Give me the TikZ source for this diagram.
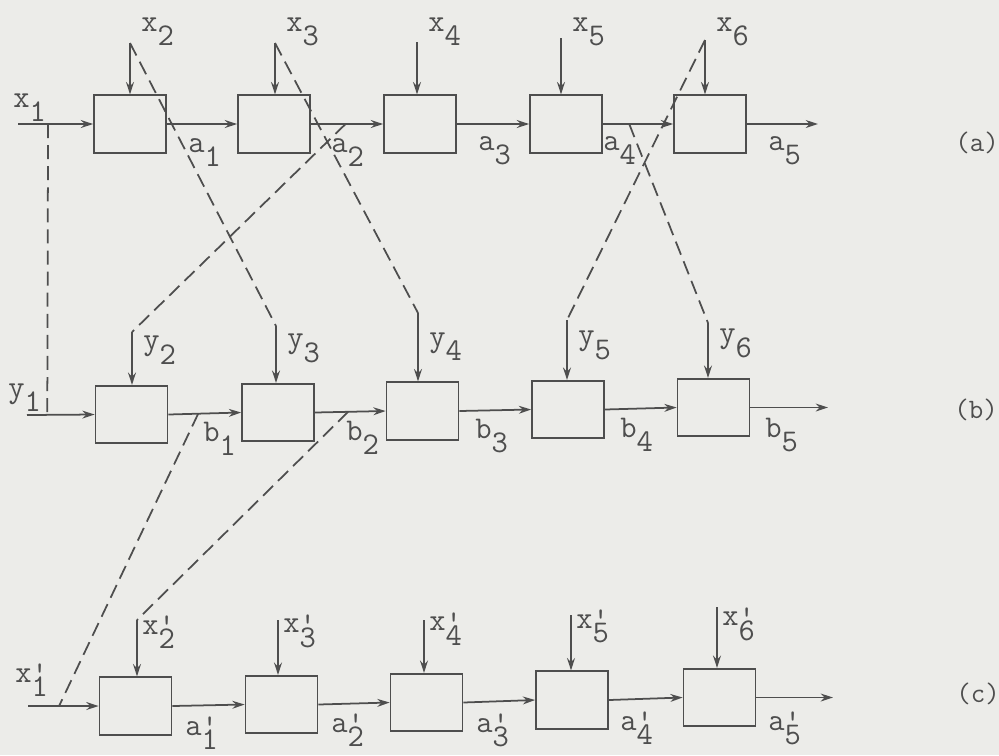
\documentclass[tikz,border=0pt]{standalone}
\usepackage{tikz}
\usetikzlibrary{arrows.meta,positioning,calc}
\usepackage{xcolor}
\definecolor{paper}{RGB}{236,236,233}
\definecolor{ink}{RGB}{78,78,78}

%% typewriter signal names: lowered index, optional prime over it
\newcommand{\sig}[2]{#1\raisebox{-0.45em}{#2}}
\newcommand{\sigp}[2]{#1\raisebox{-0.45em}{\rlap{\raisebox{0.4em}{'}}#2}}

\begin{document}
\begin{tikzpicture}[x=0.02cm, y=-0.02cm,
    blk/.style={rectangle, draw=ink, line width=1pt, minimum width=1.44cm, minimum height=1.15cm, inner sep=0pt},
    flow/.style={draw=ink, line width=1pt, -{Stealth[length=7pt,width=4.5pt]}},
    link/.style={draw=ink, line width=1pt, dash pattern=on 8pt off 4pt},
    sigl/.style={text=ink, font=\ttfamily\fontsize{18}{20}\selectfont, inner sep=0pt, anchor=base west},
    tag/.style={text=ink, font=\ttfamily\fontsize{16}{18}\selectfont, inner sep=0pt}
  ]

  %% paper
  \fill[paper] (0,0) rectangle (999,755);
  \useasboundingbox (0,0) rectangle (999,755);

  %% Row (a): boxes and inputs x_2..x_6 from above
  \foreach \i/\x/\u/\t in {1/130/130/43, 2/274/275/43, 3/420/417/42, 4/566/561/38, 5/710/705/40}{
    \pgfmathtruncatemacro{\n}{\i+1}
    \node[blk] (a\i) at (\x,124) {};
    \coordinate (ta\i) at (\u,\t);
    \draw[flow] (ta\i) -- (ta\i |- a\i.north);
    \node[sigl] at ($(ta\i |- a\i.north)+(11,-63)$) {\sig{x}{\n}};
  }
  \coordinate (ina) at (18,124);
  \coordinate (outa) at (818,124);
  \draw[flow] (ina) -- (a1.west);
  \foreach \i [evaluate=\i as \j using int(\i+1)] in {1,...,4}{
    \draw[flow] (a\i.east) -- (a\j.west);
  }
  \draw[flow] (a5.east) -- (outa);
  \node[sigl] (lx1) at (13,107) {\sig{x}{1}};
  \foreach \i/\x/\yb in {1/188/152, 2/331/152, 3/478/150, 4/603/150, 5/768/150}{
    \node[sigl] at (\x,\yb) {\sig{a}{\i}};
  }
  \node[tag] (rowa) at (977,143) {(a)};

  %% Row (b): boxes and inputs y_2..y_6
  \foreach \i/\x/\y/\u/\t in {1/131.5/414.5/132/332, 2/278/412.5/276/326, 3/422.5/411/418/313, 4/568/409.5/567/320, 5/713.5/407.5/708/323}{
    \pgfmathtruncatemacro{\n}{\i+1}
    \node[blk] (b\i) at (\x,\y) {};
    \coordinate (tb\i) at (\u,\t);
    \draw[flow] (tb\i) -- (tb\i |- b\i.north);
    \node[sigl] at ($(tb\i |- b\i.north)+(11,-35)$) {\sig{y}{\n}};
  }
  \coordinate (inb) at (27,415);
  \coordinate (outb) at (828,407.5);
  \draw[flow] (inb) -- (b1.west);
  \foreach \i [evaluate=\i as \j using int(\i+1)] in {1,...,4}{
    \draw[flow] (b\i.east) -- (b\j.west);
  }
  \draw[flow] (b5.east) -- (outb);
  \node[sigl] (ly1) at (8,397) {\sig{y}{1}};
  \foreach \i/\x/\yb in {1/203/441, 2/346/440, 3/475/438, 4/620/437, 5/765/437}{
    \node[sigl] at (\x,\yb) {\sig{b}{\i}};
  }
  \node[tag] (rowb) at (976,410) {(b)};

  %% Row (c): boxes and inputs x'_2..x'_6
  \foreach \i/\x/\y/\u/\t in {1/135.5/706/137/620, 2/281.5/704.5/278/620, 3/426.5/702.5/424/620, 4/572/700/571/615, 5/719.5/697.5/717/607}{
    \pgfmathtruncatemacro{\n}{\i+1}
    \node[blk] (c\i) at (\x,\y) {};
    \coordinate (tc\i) at (\u,\t);
    \draw[flow] (tc\i) -- (tc\i |- c\i.north);
    \node[sigl] at ($(tc\i |- c\i.north)+(5,-42)$) {\sigp{x}{\n}};
  }
  \coordinate (inc) at (28,706);
  \coordinate (outc) at (833,697.5);
  \draw[flow] (inc) -- (c1.west);
  \foreach \i [evaluate=\i as \j using int(\i+1)] in {1,...,4}{
    \draw[flow] (c\i.east) -- (c\j.west);
  }
  \draw[flow] (c5.east) -- (outc);
  \node[sigl] (lxp1) at (15,682) {\sigp{x}{1}};
  \foreach \i/\x/\yb in {1/185/735, 2/331/732, 3/476/732, 4/620/730, 5/768/730}{
    \node[sigl] at (\x,\yb) {\sigp{a}{\i}};
  }
  \node[tag] (rowc) at (978,694) {(c)};

  %% tap points on the signal lines
  \coordinate (tapx1) at ($(ina)!0.4!(a1.west)$);
  \coordinate (tapa2) at ($(a2.east)!0.48!(a3.west)$);
  \coordinate (tapa4) at ($(a4.east)!0.375!(a5.west)$);
  \coordinate (tapy1) at ($(inb)!0.3!(b1.west)$);
  \coordinate (tapb1) at ($(b1.east)!0.41!(b2.west)$);
  \coordinate (tapb2) at ($(b2.east)!0.47!(b3.west)$);
  \coordinate (tapc1) at ($(inc)!0.44!(c1.west)$);

  %% Dashed correspondences
  \draw[link] (tapx1) -- (tapy1);
  \draw[link] (ta1) -- (tb2);
  \draw[link] (ta2) -- (tb3);
  \draw[link] (tapa2) -- (tb1);
  \draw[link] (ta5) -- (tb4);
  \draw[link] (tapa4) -- (tb5);
  \draw[link] (tapb1) -- (tapc1);
  \draw[link] (tapb2) -- (tc1);

\end{tikzpicture}
\end{document}
